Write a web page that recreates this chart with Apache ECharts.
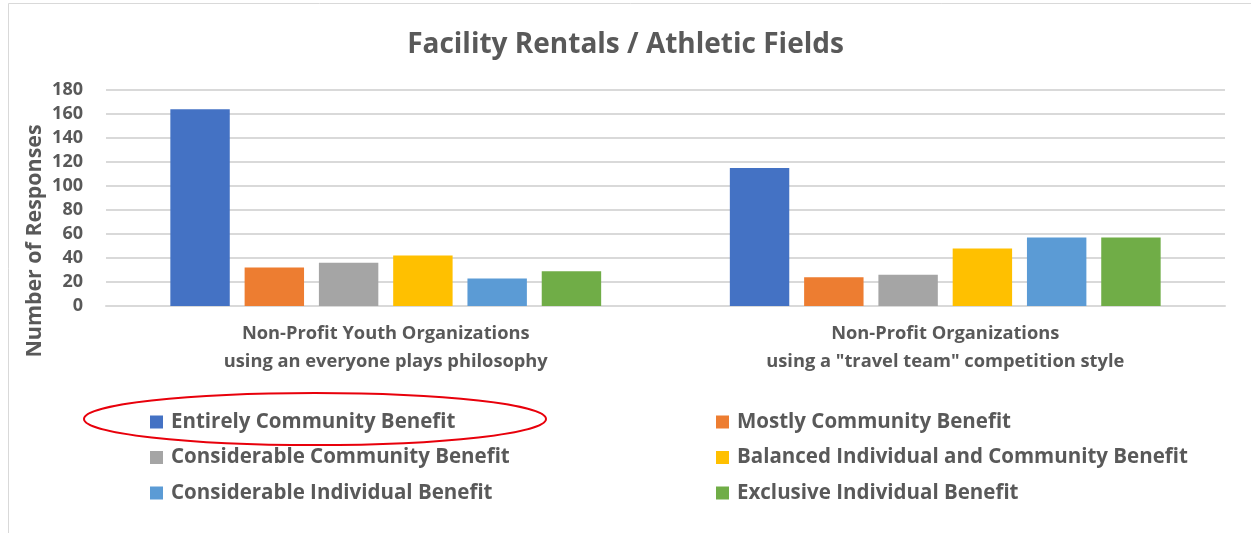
<!DOCTYPE html>
<html>
<head>
<meta charset="utf-8">
<script src="https://cdn.jsdelivr.net/npm/echarts@6/dist/echarts.min.js"></script>
<style>
  html, body { margin: 0; padding: 0; background: #fff; }
  #chart { width: 1251px; height: 533px; }
</style>
</head>
<body>
<div id="chart"></div>
<script>
const categories = [
  'Non-Profit Youth Organizations\nusing an everyone plays philosophy',
  'Non-Profit Organizations\nusing a "travel team" competition style'
];
const seriesNames = [
  'Entirely Community Benefit',
  'Mostly Community Benefit',
  'Considerable Community Benefit',
  'Balanced Individual and Community Benefit',
  'Considerable Individual Benefit',
  'Exclusive Individual Benefit'
];
const seriesColors = ['#4472C4', '#ED7D31', '#A5A5A5', '#FFC000', '#5B9BD5', '#70AD47'];
const entirely = [164, 115];
const mostly = [32, 24];
const considerableCommunity = [36, 26];
const balanced = [42, 48];
const considerableIndividual = [23, 57];
const exclusive = [29, 57];
const values = [entirely, mostly, considerableCommunity, balanced, considerableIndividual, exclusive];

const font = '"Open Sans", "DejaVu Sans", sans-serif';
const textColor = '#595959';

// legend text style shared by both columns
const legendText = {
  fontFamily: font, fontSize: 20.5, fontWeight: 'bold', color: textColor,
  lineHeight: 22, padding: [0, 0, 0, 3]
};

const chart = echarts.init(document.getElementById('chart'));
const option = {
  animation: false,
  backgroundColor: '#fff',
  title: {
    text: 'Facility Rentals / Athletic Fields',
    left: 'center',
    top: 26,
    textStyle: { fontFamily: font, fontSize: 28, fontWeight: 'bold', color: textColor }
  },
  legend: [
    {
      orient: 'vertical',
      left: 150,
      top: 411,
      padding: 0,
      itemGap: 13.5,
      itemWidth: 13,
      itemHeight: 13,
      icon: 'rect',
      data: [seriesNames[0], seriesNames[2], seriesNames[4]],
      textStyle: legendText
    },
    {
      orient: 'vertical',
      left: 716,
      top: 411,
      padding: 0,
      itemGap: 13.5,
      itemWidth: 13,
      itemHeight: 13,
      icon: 'rect',
      data: [seriesNames[1], seriesNames[3], seriesNames[5]],
      textStyle: legendText
    }
  ],
  grid: { left: 106, right: 26, top: 90, bottom: 227, containLabel: false },
  xAxis: {
    type: 'category',
    data: categories,
    axisTick: { show: false },
    axisLine: { lineStyle: { color: '#d9d9d9', width: 2 } },
    axisLabel: {
      fontFamily: font, fontSize: 18.3, fontWeight: 'bold', color: textColor,
      lineHeight: 28, margin: 14
    }
  },
  yAxis: {
    type: 'value',
    min: 0,
    max: 180,
    interval: 20,
    axisLine: { show: false },
    axisTick: { show: false },
    splitLine: { lineStyle: { color: '#d9d9d9', width: 2 } },
    axisLabel: { fontFamily: font, fontSize: 18, fontWeight: 'bold', color: textColor, margin: 23 }
  },
  graphic: [
    {
      type: 'rect',
      shape: { x: 8.5, y: 3.5, width: 1300, height: 600 },
      style: { fill: 'none', stroke: '#d9d9d9', lineWidth: 1 },
      silent: true
    },
    {
      type: 'text',
      x: 35,
      y: 241,
      rotation: Math.PI / 2,
      style: {
        text: 'Number of Responses',
        fontFamily: font, fontSize: 21.4, fontWeight: 'bold', fill: textColor,
        textAlign: 'center', textVerticalAlign: 'middle'
      }
    },
    {
      type: 'ellipse',
      shape: { cx: 315, cy: 419, rx: 231, ry: 26 },
      style: { fill: 'none', stroke: '#e8000b', lineWidth: 2 },
      z: 100
    }
  ],
  series: seriesNames.map((name, i) => ({
    name: name,
    type: 'bar',
    data: values[i],
    barGap: '25%',
    barCategoryGap: '23%',
    itemStyle: { color: seriesColors[i] }
  }))
};
chart.setOption(option);
</script>
</body>
</html>
